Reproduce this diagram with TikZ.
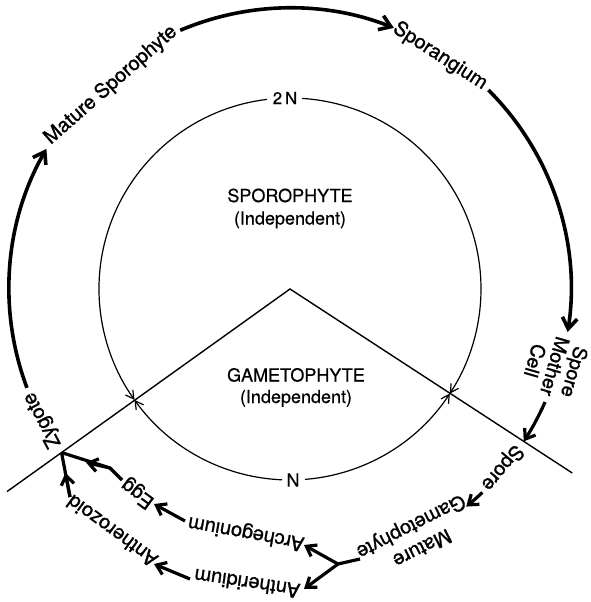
\documentclass[tikz,border=0pt]{standalone}
\usepackage{fontspec}
\setmainfont{TeX Gyre Heros}
\newfontfamily\medfont{TeX Gyre Heros}[FakeBold=1.2]
\newfontfamily\ctrfont{TeX Gyre Heros}[FakeBold=0.5]
\usetikzlibrary{arrows.meta}
\begin{document}
\begin{tikzpicture}[x=1pt,y=1pt,
  lbl/.style={font=\medfont\fontsize{20}{21}\selectfont, inner sep=0pt, align=center},
  ctr/.style={font=\ctrfont\fontsize{18}{22.5}\selectfont, inner sep=0pt, align=center},
  vline/.style={line width=1.4pt},
  thinarr/.style={line width=1.2pt, -{Straight Barb[length=8pt,width=9pt]}},
  bigarr/.style={line width=3.6pt, -{Straight Barb[length=11pt,width=15pt]}},
  smline/.style={line width=3.2pt},
  smarr/.style={line width=3.2pt, -{Straight Barb[length=9pt,width=13pt]}}]
\useasboundingbox (-290,-313) rectangle (301,289);

% construction points
\coordinate (O) at (0,0);
\coordinate (VL) at (215.6:348);
\coordinate (VR) at (-33.1:337);
\coordinate (IL) at (215.5:191);
\coordinate (IR) at (-33.2:191);
\coordinate (J) at (215.6:281);
\coordinate (K) at (-33.1:279);
\coordinate (B) at (48,-275);

% V line
\draw[vline] (VL) -- (O) -- (VR);

% inner circle
\node[ctr, font=\ctrfont\fontsize{17}{20}\selectfont] (twoN) at (-5,191) {2\,N};
\node[ctr] (N) at (3,-191) {N};
\draw[thinarr] (96.9:191) arc[start angle=96.9, end angle=215.5, radius=191];
\draw[thinarr] (86.4:191) arc[start angle=86.4, end angle=-33.2, radius=191];
\draw[thinarr] (267.6:191) arc[start angle=267.6, end angle=215.5, radius=191];
\draw[thinarr] (274.5:191) arc[start angle=274.5, end angle=326.8, radius=191];

\node[ctr] (spo) at (0,80.5) {SPOROPHYTE\\(Independent)};
\node[ctr, font=\ctrfont\fontsize{18}{21.5}\selectfont] (gam) at (6,-98.5) {GAMETOPHYTE\\(Independent)};

% outer labels
\node[lbl, rotate=41.3] (ms) at (131.3:271.4) {Mature Sporophyte};
\node[lbl, rotate=-32.8] (spg) at (57.2:277) {Sporangium};
\node[lbl, rotate=-106.1, font=\medfont\fontsize{19.5}{20.5}\selectfont] (smc) at (-16.3:276) {Spore\\Mother\\Cell};
\node[lbl, rotate=-130.1] (spore) at (-40.1:277) {Spore};
\node[lbl, rotate=-153, font=\medfont\fontsize{20}{24}\selectfont] (mg) at (-63:277.6) {Mature\\Gametophyte};
\node[lbl, rotate=169.8] (arch) at (259.8:247.4) {Archegonium};
\node[lbl, rotate=171.7] (anth) at (261.7:297.6) {Antheridium};
\node[lbl, rotate=143.3] (egg) at (233.3:254.4) {Egg};
\node[lbl, rotate=144] (antz) at (233.7:300.4) {Antherozoid};
\node[lbl, rotate=117.9] (zyg) at (207.9:280) {Zygote};

% outer arcs
\draw[bigarr] (113:281) arc[start angle=113, end angle=68.3, radius=281];
\draw[bigarr] (45.1:281) arc[start angle=45.1, end angle=-8.8, radius=281];
\draw[bigarr] (200.6:281) arc[start angle=200.6, end angle=150.1, radius=281];

% short arrows, lower half
\draw[smarr] (-23.9:279) arc[start angle=-23.9, end angle=-33.1, radius=279];
\draw[smarr] (-46.6:280) arc[start angle=-46.6, end angle=-51, radius=280];
\draw[smline] (70,-270) -- (B);
\draw[smarr] (B) -- (14,-256);
\draw[smarr] (B) -- (14,-300);
\draw[smarr] (-105,-232) -- (-136,-215);
\draw[smarr] (-100,-290) -- (-136,-275);
\draw[smline, line join=round] (-168,-191) -- (-180,-179) -- (J);
\draw[smarr] (-180,-179) -- (-204,-173.5);
\draw[smline] (-220,-208) -- (J);
\draw[smarr] (-220,-208) -- (-224.5,-184);
\end{tikzpicture}
\end{document}
